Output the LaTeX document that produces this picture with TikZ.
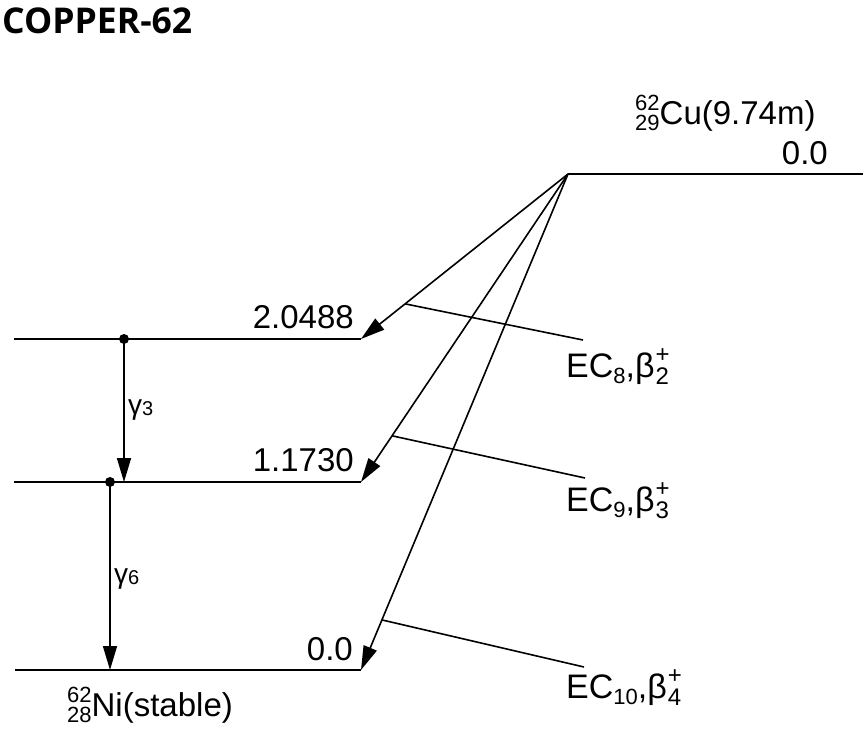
\documentclass[tikz,border=0pt]{standalone}
\usepackage{fontspec}
\setmainfont{Liberation Sans}
\newfontfamily\titlefont{Open Sans}
\usetikzlibrary{arrows.meta,calc}
\newcommand\scr[1]{{\fontsize{22}{22}\selectfont #1}}
\newcommand\scrb[1]{{\fontsize{24}{24}\selectfont #1}}
\newcommand\nuc[3]{\scr{\rlap{\raisebox{14pt}{#1}}\raisebox{-6pt}{#2}}#3}
\newcommand\subsup[2]{\kern1pt\scrb{\rlap{\raisebox{15pt}{#2}}\raisebox{-7pt}{#1}}}
\begin{document}
\begin{tikzpicture}[x=1pt,y=-1pt,
  lvl/.style={line width=1.6pt},
  decay/.style={line width=1.6pt,-{Triangle[length=24pt,width=14pt]}},
  tagline/.style={line width=1.6pt},
  txt/.style={inner sep=0pt,font=\fontsize{33}{33}\selectfont},
  ectxt/.style={inner sep=0pt,font=\fontsize{34}{34}\selectfont},
  gam/.style={inner sep=0pt,font=\fontsize{28}{28}\selectfont},
  dotmark/.style={circle,fill,inner sep=0pt,minimum size=10pt}]
\useasboundingbox (0,0) rectangle (863,734);

% title
\node[anchor=base west,inner sep=0pt,font=\titlefont\bfseries\fontsize{35.5}{35.5}\selectfont] (title) at (2,33) {COPPER-62};

% levels
\coordinate (topL) at (568,174);
\coordinate (topR) at (863,174);
\coordinate (aL) at (14,339);
\coordinate (aR) at (361,339);
\coordinate (bL) at (14,482);
\coordinate (bR) at (361,482);
\coordinate (cL) at (15,670);
\coordinate (cR) at (361,670);
\draw[lvl] (topL) -- (topR);
\draw[lvl] (aL) -- (aR);
\draw[lvl] (bL) -- (bR);
\draw[lvl] (cL) -- (cR);

% level labels
\node[txt,anchor=base west] (cu) at (635,124) {\nuc{62}{29}{Cu(9.74m)}};
\node[txt,anchor=base east] (e0top) at (828,164) {0.0};
\node[txt,anchor=base east] (ea) at (354,328) {2.0488};
\node[txt,anchor=base east] (eb) at (354,471) {1.1730};
\node[txt,anchor=base east] (ec) at (353,660) {0.0};
\node[txt,anchor=base west] (ni) at (67,716) {\nuc{62}{28}{Ni(stable)}};

% decay arrows
\draw[decay] (topL) -- (aR);
\draw[decay] (topL) -- (bR);
\draw[decay] (topL) -- (cR);

% decay labels
\coordinate (ta) at ($(topL)!0.787!(aR)$);
\coordinate (tb) at ($(topL)!0.850!(bR)$);
\coordinate (tc) at ($(topL)!0.899!(cR)$);
\coordinate (ea2) at (583,340);
\coordinate (eb2) at (585,478);
\coordinate (ec2) at (584,667);
\draw[tagline] (ta) -- (ea2);
\draw[tagline] (tb) -- (eb2);
\draw[tagline] (tc) -- (ec2);
\node[ectxt,anchor=base west] (ec8) at (566,377) {EC\raisebox{-6pt}{\scr{8}},β\subsup{2}{+}};
\node[ectxt,anchor=base west] (ec9) at (566,511) {EC\raisebox{-6pt}{\scr{9}},β\subsup{3}{+}};
\node[ectxt,anchor=base west] (ec10) at (566,698) {EC\raisebox{-6pt}{\scr{10}},β\subsup{4}{+}};

% gamma transitions
\node[dotmark] (d1) at (124,339) {};
\node[dotmark] (d2) at (110,482) {};
\coordinate (g1end) at (124,482);
\coordinate (g2end) at (110,670);
\draw[decay] (d1.center) -- (g1end);
\draw[decay] (d2.center) -- (g2end);
\node[gam,anchor=base west] (g3) at (128,414) {γ\raisebox{-1pt}{\fontsize{20}{20}\selectfont 3}};
\node[gam,anchor=base west] (g6) at (114,583) {γ\raisebox{-1pt}{\fontsize{20}{20}\selectfont 6}};
\end{tikzpicture}
\end{document}
